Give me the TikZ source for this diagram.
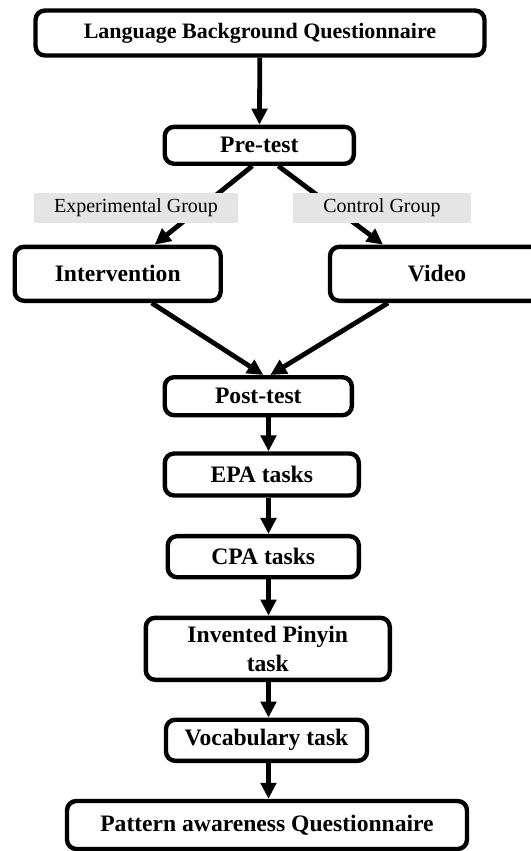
\documentclass[tikz,border=0pt]{standalone}
\usepackage{fontspec}
\setmainfont{Liberation Serif}
\usetikzlibrary{arrows.meta}
\usetikzlibrary{calc}

\begin{document}
\begin{tikzpicture}[x=0.75pt,y=0.75pt,yscale=-1,xscale=1,
	stagebox/.style={draw, line width=3.3pt, rounded corners=7pt, inner sep=0pt, align=center, font=\bfseries\fontsize{17.7}{21.5}\selectfont},
	grouplabel/.style={fill=black!10, inner sep=0pt, font=\fontsize{15}{18}\selectfont},
	arr/.style={line width=3.6pt, -{Triangle[length=12pt,width=11.5pt]}}]
	\useasboundingbox (0,0) rectangle (531,851);
	\clip (0,0) rectangle (531,851);

	%Shape: Rounded Rect [id:lbq]
	\node [stagebox, minimum width=336.7pt, minimum height=33.7pt, font=\bfseries\fontsize{16.5}{17}\selectfont] (lbq) at (260,33) {Language Background Questionnaire};
	%Shape: Rounded Rect [id:pre]
	\node [stagebox, minimum width=141.8pt, minimum height=27.7pt] (pre) at (259.3,145.3) {Pre-test};
	%Shape: Rounded Rect [id:int]
	\node [stagebox, minimum width=154.5pt, minimum height=40.5pt] (int) at (117.7,273.8) {Intervention};
	%Shape: Rounded Rect [id:vid]
	\node [stagebox, minimum width=160.5pt, minimum height=40.5pt] (vid) at (437,273.8) {Video};
	%Shape: Rounded Rect [id:post]
	\node [stagebox, minimum width=140.3pt, minimum height=28.5pt] (post) at (258.3,396.2) {Post-test};
	%Shape: Rounded Rect [id:epa]
	\node [stagebox, minimum width=145.5pt, minimum height=31.5pt] (epa) at (261.8,474.5) {EPA tasks};
	%Shape: Rounded Rect [id:cpa]
	\node [stagebox, minimum width=143.3pt, minimum height=30.8pt] (cpa) at (263.3,556.7) {CPA tasks};
	%Shape: Rounded Rect [id:ipt]
	\node [stagebox, minimum width=183pt, minimum height=46.5pt] (ipt) at (267.8,648.8) {Invented Pinyin\\task};
	%Shape: Rounded Rect [id:voc]
	\node [stagebox, minimum width=150.8pt, minimum height=30.8pt] (voc) at (266.5,740.3) {Vocabulary task};
	%Shape: Rounded Rect [id:pat]
	\node [stagebox, minimum width=300pt, minimum height=36pt] (pat) at (267,825) {Pattern awareness Questionnaire};

	\coordinate (spine) at (268.5,0);

	%Straight Lines [id:arrows]
	\draw [arr] (lbq) -- (pre);
	\draw [arr] ($(pre.south)+(-7,0)$) -- ($(int.north)+(37,0)$);
	\draw [arr] ($(pre.south)+(19,0)$) -- ($(vid.north)+(-54,0)$);
	\draw [arr] ($(int.south)+(34,0)$) -- ($(post.north)+(5,0)$);
	\draw [arr] ($(vid.south)+(-49,0)$) -- ($(post.north)+(12,0)$);
	\draw [arr] (post.south -| spine) -- (epa.north -| spine);
	\draw [arr] (epa.south -| spine) -- (cpa.north -| spine);
	\draw [arr] (cpa.south -| spine) -- (ipt.north -| spine);
	\draw [arr] (ipt.south -| spine) -- (voc.north -| spine);
	\draw [arr] (voc.south -| spine) -- (pat.north -| spine);

	% Text Node
	\node [grouplabel, minimum width=153pt, minimum height=22.5pt] (exp) at (136,208) {Experimental Group};
	% Text Node
	\node [grouplabel, minimum width=133.5pt, minimum height=22.5pt] (ctrl) at (382,208) {Control Group};

\end{tikzpicture}
\end{document}
